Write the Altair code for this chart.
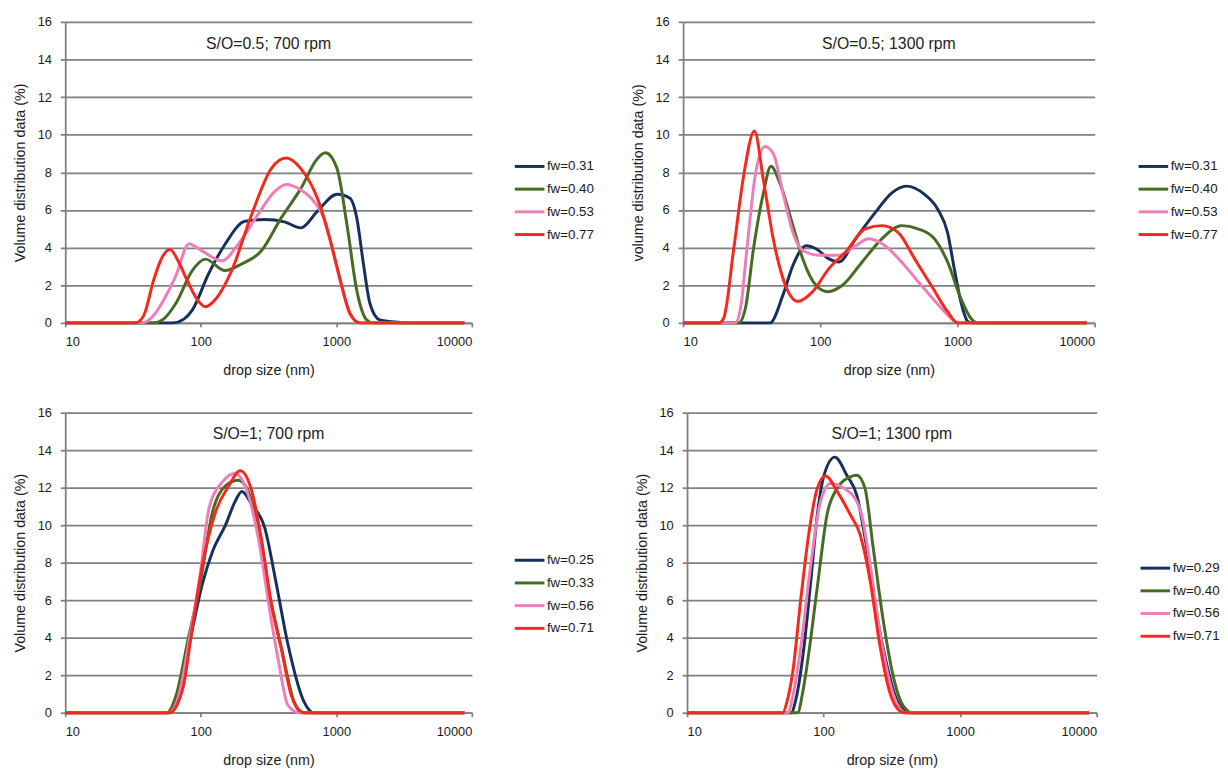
import altair as alt
import pandas as pd

# ---------------- data ----------------
X_TICKS = [10, 100, 1000, 10000]
Y_TICKS = [0, 2, 4, 6, 8, 10, 12, 14, 16]
X_TITLE = "drop size (nm)"
COLORS = ["#16305e", "#466b25", "#ef7db8", "#f4291c"]

# Panel 1: S/O=0.5; 700 rpm
P1_TITLE = "S/O=0.5; 700 rpm"
P1_YTITLE = "Volume distribution data (%)"
P1_LABELS = ["fw=0.31", "fw=0.40", "fw=0.53", "fw=0.77"]
P1_A_X = [10, 62, 75, 86.5, 114, 151, 212, 296, 414, 548, 724, 1012, 1260, 1415, 1585, 1770, 2090, 2600, 3200, 8800]
P1_A_Y = [0, 0, 0.2, 0.68, 2.6, 4.18, 5.4, 5.49, 5.37, 5.05, 5.93, 6.84, 6.63, 5.58, 3.13, 1.03, 0.16, 0.06, 0, 0]
P1_B_X = [10, 45, 52, 65.4, 86.5, 108, 151, 200, 280, 392, 548, 724, 832, 1012, 1197, 1415, 1674, 1850, 8800]
P1_B_Y = [0, 0, 0.15, 1.03, 2.78, 3.39, 2.78, 3.13, 3.83, 5.58, 7.15, 8.73, 9.04, 8.2, 5.23, 1.73, 0.16, 0, 0]
P1_C_X = [10, 37, 45, 55, 65.4, 81.8, 102, 143, 189, 264, 350, 426, 548, 684, 809, 906, 1071, 1260, 1470, 8800]
P1_C_Y = [0, 0, 0.4, 1.4, 2.5, 4.2, 3.83, 3.3, 4.18, 5.75, 6.98, 7.36, 7.06, 6.45, 5.58, 4.3, 2.2, 0.5, 0, 0]
P1_D_X = [10, 33, 38, 45, 52, 59.3, 68, 80, 95, 108, 130, 169, 237, 331, 426, 547, 724, 906, 1071, 1260, 1497, 8800]
P1_D_Y = [0, 0, 0.4, 2.3, 3.5, 3.9, 3.3, 2.2, 1.2, 0.86, 1.3, 2.78, 5.75, 8.2, 8.76, 8.2, 6.63, 4.35, 2.26, 0.5, 0, 0]

# Panel 2: S/O=0.5; 1300 rpm
P2_TITLE = "S/O=0.5; 1300 rpm"
P2_YTITLE = "volume distribution data (%)"
P2_LABELS = ["fw=0.31", "fw=0.40", "fw=0.53", "fw=0.77"]
P2_A_X = [10, 43, 53.5, 63.2, 78.9, 93, 116, 137, 181, 252, 331, 425, 575, 718, 847, 947, 1057, 1180, 1250, 8800]
P2_A_Y = [0, 0, 1.49, 3.06, 4.1, 3.94, 3.4, 3.24, 4.47, 5.87, 6.9, 7.27, 6.83, 6.04, 4.8, 2.9, 1.14, 0.1, 0, 0]
P2_B_X = [10, 25.4, 28.5, 32.6, 38.5, 43.7, 50.7, 63.2, 74.6, 93, 113, 145, 202, 281, 391, 515, 679, 847, 1057, 1248, 1393, 8800]
P2_B_Y = [0, 0, 0.8, 3.94, 6.9, 8.32, 7.44, 5.17, 3.4, 2.0, 1.66, 2.0, 3.24, 4.47, 5.17, 5.0, 4.47, 3.24, 1.31, 0.26, 0, 0]
P2_C_X = [10, 24, 26.5, 29.2, 33.5, 39.5, 45.4, 53.5, 63.2, 74.6, 98.4, 137, 181, 225, 297, 391, 545, 759, 947, 1010, 8800]
P2_C_Y = [0, 0, 1.0, 3.94, 7.8, 9.37, 9.0, 6.9, 4.8, 3.85, 3.6, 3.6, 4.1, 4.47, 4.1, 3.24, 2.0, 0.8, 0.1, 0, 0]
P2_D_X = [10, 18.3, 19.8, 23.4, 27.6, 33.1, 38.5, 45.4, 53.5, 68.7, 88, 116, 153, 213, 281, 370, 488, 643, 847, 1000, 8800]
P2_D_Y = [0, 0, 0.26, 3.94, 7.8, 10.2, 7.6, 4.47, 2.36, 1.14, 1.66, 2.9, 3.77, 5.0, 5.17, 4.8, 3.4, 2.0, 0.6, 0, 0]

# Panel 3: S/O=1; 700 rpm
P3_TITLE = "S/O=1; 700 rpm"
P3_YTITLE = "Volume distribution data (%)"
P3_LABELS = ["fw=0.25", "fw=0.33", "fw=0.56", "fw=0.71"]
P3_A_X = [10, 58, 65.8, 82.3, 103, 122, 152, 180, 201, 238, 296, 360, 437, 578, 684, 8800]
P3_A_Y = [0, 0, 0.58, 3.7, 6.9, 8.6, 10.0, 11.3, 11.8, 11.1, 9.87, 6.9, 3.73, 0.58, 0, 0]
P3_B_X = [10, 56, 65.8, 80, 99, 122, 152, 190, 230, 265, 330, 392, 490, 560, 8800]
P3_B_Y = [0, 0, 0.93, 3.8, 6.9, 10.7, 12.1, 12.4, 11.6, 9.7, 5.9, 3.5, 0.55, 0, 0]
P3_C_X = [10, 58, 68, 85, 99, 115, 144, 180, 215, 266, 330, 372, 440, 530, 8800]
P3_C_Y = [0, 0, 0.8, 4.5, 7.4, 10.9, 12.3, 12.76, 12.0, 9.3, 5.0, 2.85, 0.4, 0, 0]
P3_D_X = [10, 58.8, 73.6, 86.9, 103, 128.5, 161, 195, 238, 281, 332, 393, 465, 550, 580, 8800]
P3_D_Y = [0, 0, 1.28, 4.6, 7.9, 10.7, 12.1, 12.9, 11.8, 9.2, 5.8, 3.4, 0.93, 0.05, 0, 0]

# Panel 4: S/O=1; 1300 rpm
P4_TITLE = "S/O=1; 1300 rpm"
P4_YTITLE = "Volume distribution data (%)"
P4_LABELS = ["fw=0.29", "fw=0.40", "fw=0.56", "fw=0.71"]
P4_A_X = [10, 57.8, 62.9, 72, 80.7, 90, 100.7, 121, 148, 175, 207, 244, 288, 341, 403, 420, 8800]
P4_A_Y = [0, 0, 0.76, 3.56, 7.06, 10.56, 12.66, 13.63, 12.66, 11.6, 8.8, 5.3, 2.68, 0.76, 0.05, 0, 0]
P4_B_X = [10, 64.6, 70, 76.2, 90, 106, 126, 157, 175, 201, 231, 273, 323, 381, 450, 8800]
P4_B_Y = [0, 0, 1.0, 2.68, 6.7, 10.56, 11.97, 12.58, 12.66, 11.97, 8.8, 4.96, 1.98, 0.4, 0, 0]
P4_C_X = [10, 54.7, 60, 68.3, 80.7, 95, 112, 141, 175, 190, 219, 259, 305, 361, 400, 8800]
P4_C_Y = [0, 0, 1.0, 3.56, 7.93, 11.27, 12.23, 11.97, 11.27, 10.56, 7.93, 4.26, 1.63, 0.23, 0, 0]
P4_D_X = [10, 50.3, 54, 59.4, 68.4, 78.5, 90, 103.5, 126, 157, 185, 219, 259, 305, 361, 390, 8800]
P4_D_Y = [0, 0, 0.6, 2.15, 6.18, 9.69, 11.97, 12.63, 11.79, 10.56, 9.51, 7.06, 3.56, 1.1, 0.1, 0, 0]

FONT = "Liberation Sans"


def panel(title, ytitle, labels, series, w, h, lx, ly):
    rows = []
    for lab, (xs, ys) in zip(labels, series):
        for x, y in zip(xs, ys):
            rows.append({"size": x, "value": y, "series": lab})
    df = pd.DataFrame(rows)
    lines = alt.Chart(df).mark_line(interpolate="monotone", strokeWidth=3).encode(
        x=alt.X("size:Q",
                scale=alt.Scale(type="log", domain=[10, 10000], nice=False),
                axis=alt.Axis(values=X_TICKS, format="d", title=X_TITLE, grid=False,
                              tickSize=4, labelPadding=9, titlePadding=15)),
        y=alt.Y("value:Q",
                scale=alt.Scale(domain=[0, 16], nice=False),
                axis=alt.Axis(values=Y_TICKS, title=ytitle, grid=True,
                              tickSize=5, labelPadding=9, titlePadding=10)),
        color=alt.Color("series:N", sort=labels,
                        scale=alt.Scale(domain=labels, range=COLORS),
                        legend=alt.Legend(title=None, orient="none", legendX=lx, legendY=ly,
                                          symbolType="stroke", symbolSize=900,
                                          symbolStrokeWidth=3, labelOffset=1,
                                          rowPadding=-4.5, padding=0)),
    )
    txt = alt.Chart(pd.DataFrame({"t": [title]})).mark_text(
        fontSize=16, font=FONT, color="#222222"
    ).encode(text="t:N", x=alt.value(w / 2), y=alt.value(22))
    return alt.layer(lines, txt).properties(width=w, height=h)


p1 = panel(P1_TITLE, P1_YTITLE, P1_LABELS,
           [(P1_A_X, P1_A_Y), (P1_B_X, P1_B_Y), (P1_C_X, P1_C_Y), (P1_D_X, P1_D_Y)],
           412, 305, 454, 130)
p2 = panel(P2_TITLE, P2_YTITLE, P2_LABELS,
           [(P2_A_X, P2_A_Y), (P2_B_X, P2_B_Y), (P2_C_X, P2_C_Y), (P2_D_X, P2_D_Y)],
           417, 305, 460, 130)
p3 = panel(P3_TITLE, P3_YTITLE, P3_LABELS,
           [(P3_A_X, P3_A_Y), (P3_B_X, P3_B_Y), (P3_C_X, P3_C_Y), (P3_D_X, P3_D_Y)],
           412, 304, 454, 133)
p4 = panel(P4_TITLE, P4_YTITLE, P4_LABELS,
           [(P4_A_X, P4_A_Y), (P4_B_X, P4_B_Y), (P4_C_X, P4_C_Y), (P4_D_X, P4_D_Y)],
           415, 304, 458, 141)

row1 = alt.hconcat(p1, p2, spacing=36).resolve_scale(color="independent").resolve_legend(color="independent")
row2 = alt.hconcat(p3, p4, spacing=40).resolve_scale(color="independent").resolve_legend(color="independent")

chart = alt.vconcat(row1, row2, spacing=30).resolve_scale(color="independent").resolve_legend(
    color="independent"
).properties(
    padding={"left": 4, "top": 3, "right": 0, "bottom": 0},
    background="white",
).configure_view(stroke=None).configure_axis(
    labelFont=FONT, labelFontSize=13, labelColor="#1a1a1a",
    titleFont=FONT, titleFontSize=14.5, titleFontWeight="normal", titleColor="#1a1a1a",
    domainColor="#808080", domainWidth=1.8, tickColor="#808080", tickWidth=1.8,
    gridColor="#808080", gridWidth=1.8, gridOpacity=1,
).configure_legend(
    labelFont=FONT, labelFontSize=13.5, labelColor="#1a1a1a",
)

chart.save("out.html", embed_options={"renderer": "svg", "actions": False})
